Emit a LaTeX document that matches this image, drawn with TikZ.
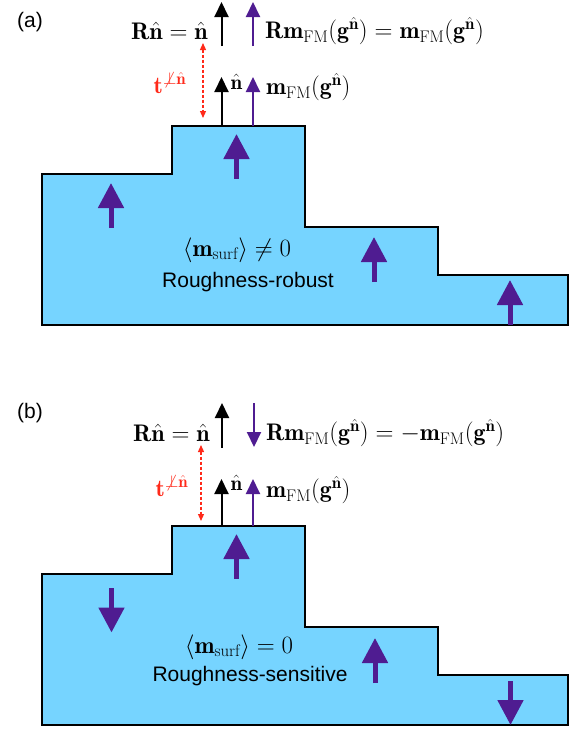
\documentclass[tikz,border=0pt]{standalone}
\usepackage{fontspec}
\setsansfont{Liberation Sans}
\usetikzlibrary{arrows.meta}
\definecolor{Surf}{HTML}{76D4FF}
\definecolor{Spin}{HTML}{4F1C91}
\definecolor{Trans}{HTML}{FF2A1A}

\begin{document}
\begin{tikzpicture}[x=1pt,y=-1pt,font=\fontsize{21}{25}\selectfont,
 slab/.style={draw=black,fill=Surf,line width=2.5pt},
 bigspin/.style={-{Triangle[width=25pt,length=25pt]},line width=5pt,draw=Spin},
 axis/.style={-{Triangle[width=14pt,length=15pt]},line width=2pt},
 moment/.style={axis,draw=Spin},
 transl/.style={{Triangle[width=6pt,length=7pt]}-{Triangle[width=6pt,length=7pt]},densely dashed,line width=1.2pt,draw=Trans},
 lbl/.style={inner sep=0pt},
 eq/.style={lbl,font=\fontsize{24}{28}\selectfont}]
 \useasboundingbox (0,0) rectangle (579,729);
 % panel (a)
 \draw[slab] (42,174) -- (172,174) -- (172,126) -- (305,126) -- (305,227) -- (438,227) -- (438,275) -- (568,275) -- (568,325) -- (42,325) -- cycle;
 \foreach \x/\a/\b in {111/228/183,236.5/179/134,374/282/237,510/325/280}
  \draw[bigspin] (\x,\a) -- (\x,\b);
 \draw[axis] (221.5,46) -- (221.5,2);
 \draw[moment] (253,46) -- (253,2);
 \draw[axis] (221.5,126) -- (221.5,77);
 \draw[moment] (253,126) -- (253,77);
 \draw[transl] (203,43) -- (203,118);
 \node[lbl] (tag-a) at (30,22) {\sffamily (a)};
 \node[eq,anchor=east] (rn-a) at (208,31) {$\mathbf{R}\hat{\mathbf{n}}=\hat{\mathbf{n}}$};
 \node[eq,anchor=west] (rm-a) at (265,31) {$\mathbf{R}\mathbf{m}_{\mathrm{FM}}(\mathbf{g}^{\hat{\mathbf{n}}})=\mathbf{m}_{\mathrm{FM}}(\mathbf{g}^{\hat{\mathbf{n}}})$};
 \node[eq,text=Trans] (t-a) at (170,83) {$\mathbf{t}^{\not\perp\hat{\mathbf{n}}}$};
 \node[lbl] (n-a) at (236.5,82) {$\hat{\mathbf{n}}$};
 \node[eq,anchor=west] (m-a) at (266,87) {$\mathbf{m}_{\mathrm{FM}}(\mathbf{g}^{\hat{\mathbf{n}}})$};
 \node[eq] (avg-a) at (237,250) {$\langle\mathbf{m}_{\mathrm{surf}}\rangle\neq0$};
 \node[lbl] (kind-a) at (248,282) {\sffamily Roughness-robust};
 % panel (b)
 \begin{scope}[shift={(0,400)}]
 \draw[slab] (42,174) -- (172,174) -- (172,126) -- (305,126) -- (305,227) -- (438,227) -- (438,275) -- (568,275) -- (568,325) -- (42,325) -- cycle;
 \foreach \x/\a/\b in {111.5/188/232.5,236.5/179/134,375/283/238,510.5/281/325}
  \draw[bigspin] (\x,\a) -- (\x,\b);
 \draw[axis] (222,47.5) -- (222,3);
 \draw[moment] (254,3) -- (254,47);
 \draw[axis] (221.5,126) -- (221.5,79);
 \draw[moment] (253,126) -- (253,79);
 \draw[transl] (201,45) -- (201,121);
 \node[lbl] (tag-b) at (30,13) {\sffamily (b)};
 \node[eq,anchor=east] (rn-b) at (210,33) {$\mathbf{R}\hat{\mathbf{n}}=\hat{\mathbf{n}}$};
 \node[eq,anchor=west] (rm-b) at (266,33) {$\mathbf{R}\mathbf{m}_{\mathrm{FM}}(\mathbf{g}^{\hat{\mathbf{n}}})=-\mathbf{m}_{\mathrm{FM}}(\mathbf{g}^{\hat{\mathbf{n}}})$};
 \node[eq,text=Trans] (t-b) at (172,86) {$\mathbf{t}^{\not\perp\hat{\mathbf{n}}}$};
 \node[lbl] (n-b) at (236.5,83) {$\hat{\mathbf{n}}$};
 \node[eq,anchor=west] (m-b) at (266,90) {$\mathbf{m}_{\mathrm{FM}}(\mathbf{g}^{\hat{\mathbf{n}}})$};
 \node[eq] (avg-b) at (239,247) {$\langle\mathbf{m}_{\mathrm{surf}}\rangle=0$};
 \node[lbl] (kind-b) at (250,276) {\sffamily Roughness-sensitive};
 \end{scope}
\end{tikzpicture}
\end{document}
